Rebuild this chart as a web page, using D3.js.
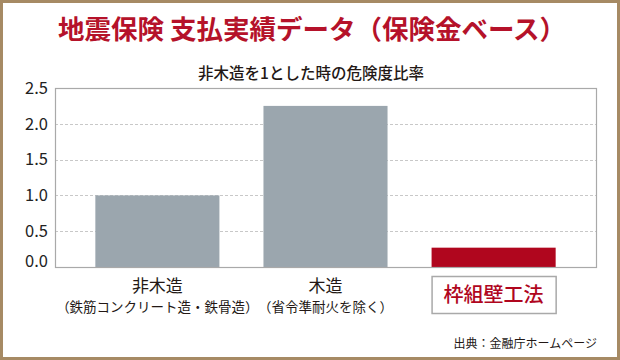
<!DOCTYPE html>
<html><head><meta charset="utf-8">
<script src="https://cdn.jsdelivr.net/npm/d3@7/dist/d3.min.js"></script>
<style>
html,body{margin:0;padding:0;background:#fff;}
svg{display:block;}
text{font-family:"Noto Sans CJK JP","Noto Sans",sans-serif;}
</style></head>
<body>
<svg id="chart" width="620" height="360"></svg>
<script>
const categories = ["非木造", "木造", "枠組壁工法"];
const subLabels = ["（鉄筋コンクリート造・鉄骨造）", "（省令準耐火を除く）", ""];
const values = [1.0, 2.25, 0.27];
const yTicks = [0, 0.5, 1.0, 1.5, 2.0, 2.5];
const titleText = "地震保険 支払実績データ（保険金ベース）";
const subtitleText = "非木造を1とした時の危険度比率";
const sourceText = "出典：金融庁ホームページ";

const svg = d3.select("#chart");
const W = 620, H = 360;
const plot = {left: 55, right: 596, top: 88, bottom: 267};

// outer brown frame
svg.append("rect").attr("x", 1.5).attr("y", 1.5).attr("width", W - 3).attr("height", H - 3)
  .attr("fill", "#fff").attr("stroke", "#a68a64").attr("stroke-width", 3);

const x = d3.scaleBand().domain(categories).range([plot.left, plot.right])
  .paddingInner(0.262).paddingOuter(0.24);
const y = d3.scaleLinear().domain([0, 2.5]).range([plot.bottom, plot.top]);

// gridlines
svg.append("g").selectAll("line").data(yTicks.filter(d => d > 0 && d < 2.5)).join("line")
  .attr("x1", plot.left).attr("x2", plot.right)
  .attr("y1", d => Math.round(y(d)) + 0.5).attr("y2", d => Math.round(y(d)) + 0.5)
  .attr("stroke", "#c8c8c8").attr("stroke-dasharray", "3,2");

// bars
svg.append("g").selectAll("rect").data(values).join("rect")
  .attr("x", (d, i) => x(categories[i]))
  .attr("width", x.bandwidth())
  .attr("y", d => y(d))
  .attr("height", d => y(0) - y(d))
  .attr("fill", (d, i) => i === 2 ? "#b0061e" : "#9ba6ae");

// plot frame
svg.append("rect").attr("x", plot.left + 0.5).attr("y", plot.top + 0.5)
  .attr("width", plot.right - plot.left).attr("height", plot.bottom - plot.top)
  .attr("fill", "none").attr("stroke", "#a9a9a9").attr("stroke-width", 1.2);

// y axis
const yAxis = d3.axisLeft(y).tickValues(yTicks).tickFormat(d3.format(".1f")).tickSize(0).tickPadding(7);
const gy = svg.append("g").attr("transform", `translate(${plot.left},0)`).call(yAxis);
gy.select(".domain").remove();
gy.selectAll("text").attr("font-family", "'Liberation Sans', Arial, sans-serif")
  .attr("font-size", 16.5).attr("fill", "#222").attr("dy", (d, i) => d === 0 ? "-0.05em" : "0.32em");

// category labels
categories.forEach((c, i) => {
  const cx = x(c) + x.bandwidth() / 2;
  if (i < 2) {
    svg.append("text").attr("x", cx).attr("y", 292).attr("text-anchor", "middle")
      .attr("font-size", 17).attr("fill", "#231815").text(c);
    svg.append("text").attr("x", cx).attr("y", 312).attr("text-anchor", "middle")
      .attr("font-size", 13.5).attr("fill", "#231815").text(subLabels[i]);
  } else {
    svg.append("rect").attr("x", x(c) + 0.5).attr("y", 276.5)
      .attr("width", x.bandwidth()).attr("height", 37)
      .attr("fill", "#fff").attr("stroke", "#a9a9a9").attr("stroke-width", 1.5);
    svg.append("text").attr("x", cx).attr("y", 302).attr("text-anchor", "middle")
      .attr("font-size", 20).attr("fill", "#b0061e").attr("font-weight", 500).text(c);
  }
});

// titles
svg.append("text").attr("x", 312).attr("y", 39).attr("text-anchor", "middle")
  .attr("font-size", 26.5).attr("font-weight", 600).attr("fill", "#b5122a").text(titleText);
svg.append("text").attr("x", 311).attr("y", 79).attr("text-anchor", "middle")
  .attr("font-size", 15.5).attr("font-weight", 500).attr("fill", "#231815").text(subtitleText);

// source
svg.append("text").attr("x", 597).attr("y", 348).attr("text-anchor", "end")
  .attr("font-size", 12).attr("fill", "#231815").text(sourceText);
</script>
</body></html>
